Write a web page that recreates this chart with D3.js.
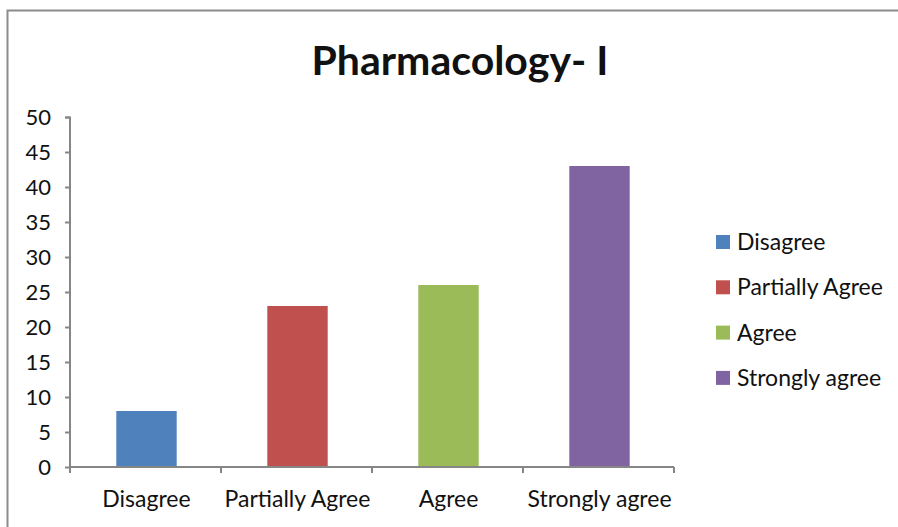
<!DOCTYPE html>
<html>
<head>
<meta charset="utf-8">
<script src="https://cdn.jsdelivr.net/npm/d3@7"></script>
<style>
  body { margin: 0; background: #fff; }
  text { font-family: Lato, "Open Sans", sans-serif; fill: #111; }
</style>
</head>
<body>
<svg id="chart" width="898" height="527"></svg>
<script>
// data
var categories = ["Disagree", "Partially Agree", "Agree", "Strongly agree"];
var values = [8, 23, 26, 43];
var colors = ["#4F81BD", "#C0504D", "#9BBB59", "#8064A2"];
var yTicks = [0, 5, 10, 15, 20, 25, 30, 35, 40, 45, 50];

var svg = d3.select("#chart");

// outer frame
svg.append("path")
  .attr("d", "M7.5,527 V10.5 H898")
  .attr("fill", "none")
  .attr("stroke", "#8c8c8c")
  .attr("stroke-width", 2);

svg.append("text")
  .attr("x", 460)
  .attr("y", 75)
  .attr("text-anchor", "middle")
  .style("font-size", "41px")
  .style("font-weight", "bold")
  .text("Pharmacology- I");

var x = d3.scaleBand()
  .domain(categories)
  .range([70, 674])
  .paddingInner(0.6)
  .paddingOuter(0.3);

var y = d3.scaleLinear()
  .domain([0, 50])
  .range([467, 117]);

var g = svg.append("g");

g.selectAll("rect.bar")
  .data(values)
  .enter()
    .append("rect")
    .attr("class", "bar")
    .attr("x", function(d, i) { return x(categories[i]) + 1; })
    .attr("width", x.bandwidth())
    .attr("y", function(d) { return y(d); })
    .attr("height", function(d) { return y(0) - y(d); })
    .attr("fill", function(d, i) { return colors[i]; });

// y axis
var yAxis = g.append("g")
  .attr("transform", "translate(70,0)")
  .call(d3.axisLeft(y).tickValues(yTicks).tickSize(5).tickPadding(14));
yAxis.select(".domain").attr("d", "M-5,117.5H0V467");
yAxis.selectAll("text").style("font-size", "22px").style("fill", "#111");

// x axis, ticks between categories
var step = x.step();
var xAxis = g.append("g")
  .attr("transform", "translate(0,467)");
xAxis.append("line")
  .attr("x1", 69).attr("x2", 674)
  .attr("y1", 0).attr("y2", 0);
xAxis.selectAll("line.tick")
  .data(d3.range(categories.length + 1))
  .enter()
    .append("line")
    .attr("class", "tick")
    .attr("x1", function(i) { return 70 + i * step; })
    .attr("x2", function(i) { return 70 + i * step; })
    .attr("y1", 0).attr("y2", 6);
xAxis.selectAll("text")
  .data(categories)
  .enter()
    .append("text")
    .attr("x", function(d) { return x(d) + x.bandwidth() / 2 + 1; })
    .attr("y", 40)
    .attr("text-anchor", "middle")
    .style("font-size", "23px")
    .text(function(d) { return d; });

[yAxis, xAxis].forEach(function(a) {
  a.selectAll("line, path").attr("stroke", "#868686").attr("stroke-width", 2);
});

// legend
var legend = svg.append("g")
  .attr("transform", "translate(716,242)");
var items = legend.selectAll("g")
  .data(categories)
  .enter()
    .append("g")
    .attr("transform", function(d, i) { return "translate(0," + (i * 45.3) + ")"; });
items.append("rect")
  .attr("x", 0).attr("y", -7)
  .attr("width", 14).attr("height", 14)
  .attr("fill", function(d, i) { return colors[i]; });
items.append("text")
  .attr("x", 21)
  .attr("y", 8)
  .style("font-size", "23px")
  .text(function(d) { return d; });
</script>
</body>
</html>
